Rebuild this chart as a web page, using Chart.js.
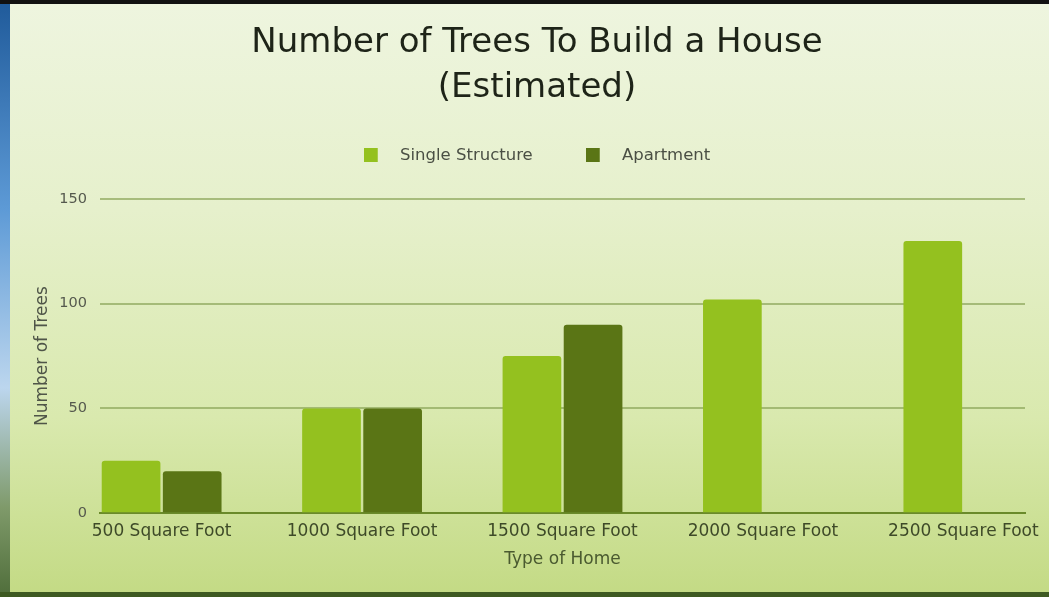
<!DOCTYPE html>
<html>
<head>
<meta charset="utf-8">
<script src="https://cdn.jsdelivr.net/npm/chart.js@4"></script>
<style>
  html, body { margin: 0; padding: 0; width: 1049px; height: 597px; overflow: hidden; }
  body {
    position: relative;
    background: linear-gradient(180deg, #eef5df 0%, #e6f0cc 35%, #d9e9ae 70%, #c3da84 100%);
  }
  #strip { position: absolute; left: 0; top: 0; width: 10px; height: 597px;
    background: linear-gradient(180deg, #1f5a9a 0%, #5d9ad6 35%, #bcd6ee 65%, #7f9a6a 85%, #4f6d3a 100%); }
  #topbar { position: absolute; left: 0; top: 0; width: 1049px; height: 4px; background: #111; }
  #botbar { position: absolute; left: 0; top: 592px; width: 1049px; height: 5px; background: #3e5a22; }
  #wrap { position: absolute; left: 0; top: 0; width: 1049px; height: 597px; }
</style>
</head>
<body>
<div id="strip"></div>
<div id="topbar"></div>
<div id="botbar"></div>
<div id="wrap"><canvas id="c" width="1049" height="597"></canvas></div>
<script>
const titleLines = ['Number of Trees To Build a House', '(Estimated)'];
const categories = ['500 Square Foot', '1000 Square Foot', '1500 Square Foot', '2000 Square Foot', '2500 Square Foot'];
const singleStructure = [25, 50, 75, 102, 130];
const apartment = [20, 50, 90, null, null];
const yTicks = [0, 50, 100, 150];
const seriesNames = ['Single Structure', 'Apartment'];
const seriesColors = ['#94c11f', '#5a7515'];
const xTitle = 'Type of Home';
const yTitle = 'Number of Trees';

const toPoints = arr => arr.map((v, i) => ({ x: i, y: v }));
const FONT = "'DejaVu Sans', sans-serif";

// legend swatch: 14px square on the left of a wider transparent box (gap before the text)
function swatch(color) {
  const c = document.createElement('canvas');
  c.width = 28; c.height = 14;
  const g = c.getContext('2d');
  g.fillStyle = color;
  g.fillRect(0, 0, 14, 14);
  return c;
}

const legendGap = {
  id: 'legendGap',
  beforeInit(chart) {
    const origFit = chart.legend.fit;
    chart.legend.fit = function () {
      origFit.call(this);
      this.height += 25.5;
    };
  }
};

new Chart(document.getElementById('c'), {
  type: 'bar',
  data: {
    datasets: [
      { label: seriesNames[0], data: toPoints(singleStructure), backgroundColor: seriesColors[0], borderRadius: 3,
        categoryPercentage: 0.61, barPercentage: 0.96 },
      { label: seriesNames[1], data: toPoints(apartment), backgroundColor: seriesColors[1], borderRadius: 3,
        categoryPercentage: 0.61, barPercentage: 0.96 }
    ]
  },
  plugins: [legendGap],
  options: {
    responsive: false,
    animation: false,
    devicePixelRatio: 1,
    layout: { padding: { left: 49, right: 24, top: 0, bottom: 27 } },
    plugins: {
      title: {
        display: true,
        text: titleLines,
        color: '#1e2418',
        font: { family: FONT, size: 34, weight: 'normal', lineHeight: 45 / 34 },
        padding: { top: 20.5, bottom: -16.5 }
      },
      legend: {
        display: true,
        labels: {
          color: '#4a4f44',
          font: { family: FONT, size: 16.5 },
          usePointStyle: true,
          pointStyleWidth: 28,
          boxHeight: 14,
          padding: 53,
          generateLabels(chart) {
            const items = Chart.defaults.plugins.legend.labels.generateLabels(chart);
            items.forEach((it, i) => { it.pointStyle = swatch(seriesColors[i]); });
            return items;
          }
        }
      },
      tooltip: { enabled: false }
    },
    scales: {
      x: {
        type: 'linear',
        min: -0.3075,
        max: 4.3075,
        offset: false,
        grid: { display: false, drawTicks: false },
        border: { display: true, color: '#6a8a2a', width: 2 },
        afterBuildTicks: scale => { scale.ticks = categories.map((c, i) => ({ value: i })); },
        ticks: {
          autoSkip: false,
          maxRotation: 0,
          padding: 8,
          color: '#3e4a28',
          font: { family: FONT, size: 17 },
          callback: v => categories[v]
        },
        title: {
          display: true, text: xTitle, color: '#4a5a30',
          font: { family: FONT, size: 17 },
          padding: { top: 0, bottom: 0 }
        }
      },
      y: {
        min: 0, max: 150,
        afterBuildTicks: scale => { scale.ticks = yTicks.map(v => ({ value: v })); },
        afterFit: scale => { scale.width = 51; },
        grid: { color: 'rgba(140,165,90,0.7)', lineWidth: 2, drawTicks: false },
        border: { display: false },
        ticks: {
          padding: 13,
          color: '#55594e',
          font: { family: FONT, size: 14.5 }
        },
        title: {
          display: true, text: yTitle, color: '#4f5548',
          font: { family: FONT, size: 17, lineHeight: 1.2 },
          padding: { top: -17, bottom: 0 }
        }
      }
    }
  }
});
</script>
</body>
</html>
